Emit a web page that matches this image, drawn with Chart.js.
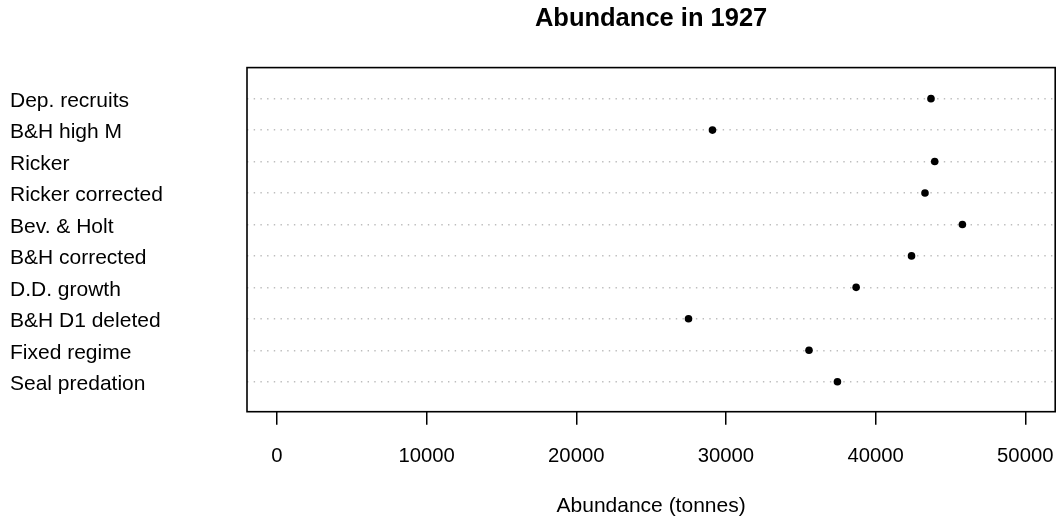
<!DOCTYPE html>
<html>
<head>
<meta charset="utf-8">
<title>Abundance in 1927</title>
<script src="https://cdn.jsdelivr.net/npm/chart.js@4/dist/chart.umd.min.js"></script>
<style>
  html,body{margin:0;padding:0;background:#fff}
  #wrap{width:1059px;height:519px}
</style>
</head>
<body>
<div id="wrap"><canvas id="c"></canvas></div>
<script>
// dotchart data, top row first
const models = ['Dep. recruits','B&H high M','Ricker','Ricker corrected','Bev. & Holt',
                'B&H corrected','D.D. growth','B&H D1 deleted','Fixed regime','Seal predation'];
const abundance = [43700, 29100, 43950, 43300, 45800, 42400, 38700, 27500, 35550, 37450];
const xTicks = [0, 10000, 20000, 30000, 40000, 50000];

const FONT = "'Liberation Sans', Arial, sans-serif";
const n = models.length;
const rowOf = i => n - i;   // top label sits on the highest row

// plot frame, like R's box()
const boxPlugin = {
  id:'box',
  afterDatasetsDraw(chart){
    const a = chart.chartArea, ctx = chart.ctx;
    ctx.save();
    ctx.strokeStyle = '#000';
    ctx.lineWidth = 1.6;
    ctx.strokeRect(a.left, a.top, a.right - a.left, a.bottom - a.top);
    ctx.restore();
  }
};

new Chart(document.getElementById('c'), {
  type:'scatter',
  data:{
    datasets:[{
      data: abundance.map((v,i)=>({x:v, y:rowOf(i)})),
      backgroundColor:'#000',
      borderWidth:0,
      pointRadius:3.8,
      pointHoverRadius:3.8
    }]
  },
  options:{
    responsive:true,
    maintainAspectRatio:false,
    animation:false,
    layout:{padding:{left:10, right:3, top:0, bottom:0}},
    plugins:{
      legend:{display:false},
      tooltip:{enabled:false},
      title:{
        display:true,
        text:'Abundance in 1927',
        fullSize:false,
        color:'#000',
        font:{family:FONT, size:25.5, weight:'bold', lineHeight:1.2},
        padding:{top:4, bottom:33}
      }
    },
    scales:{
      x:{
        type:'linear',
        min:-2000, max:52000,
        afterBuildTicks: s => { s.ticks = xTicks.map(v=>({value:v})); },
        afterFit: s => { s.height = 107.3; s.paddingLeft = 0; s.paddingRight = 0; },
        border:{display:false},
        grid:{drawOnChartArea:false, drawTicks:true, tickLength:13, color:'#000', lineWidth:1.5},
        ticks:{color:'#000', padding:20, maxRotation:0, autoSkip:false,
               font:{family:FONT, size:20.3},
               callback: v => String(v)},
        title:{display:true, text:'Abundance (tonnes)', color:'#000',
               font:{family:FONT, size:21}, padding:{top:0, bottom:0}}
      },
      y:{
        type:'linear',
        min:0.046, max:10.987,
        afterBuildTicks: s => { s.ticks = models.map((m,i)=>({value:rowOf(i)})); },
        afterFit: s => { s.width = 237; s.paddingTop = 0; s.paddingBottom = 0; },
        border:{display:false, dash:[1.4,5.3]},
        grid:{drawTicks:false, color:'#bdbdbd', lineWidth:1.4},
        ticks:{
          color:'#000', crossAlign:'far', autoSkip:false, labelOffset:2.5,
          font:{family:FONT, size:21},
          callback: v => models[n - v]
        }
      }
    }
  },
  plugins:[boxPlugin]
});
</script>
</body>
</html>
